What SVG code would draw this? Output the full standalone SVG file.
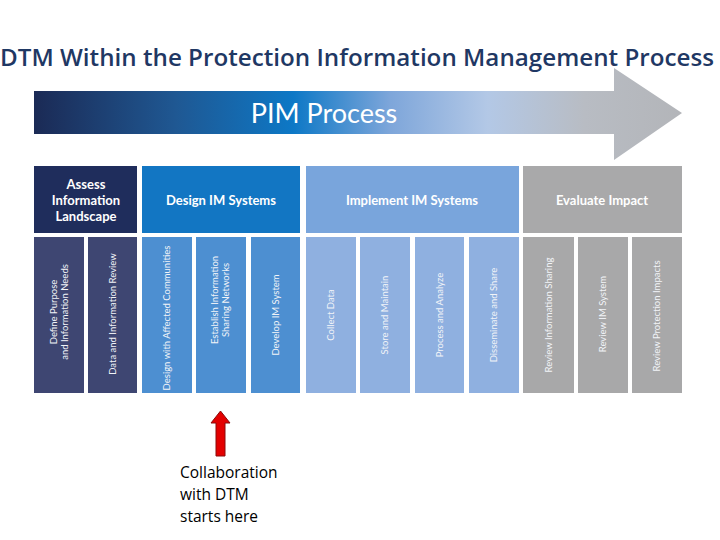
<svg xmlns="http://www.w3.org/2000/svg" width="720" height="540" viewBox="0 0 720 540">
<defs>
<linearGradient id="pim" x1="34" y1="0" x2="682" y2="0" gradientUnits="userSpaceOnUse">
<stop offset="0" stop-color="#1b2a55"/>
<stop offset="0.22" stop-color="#1f5893"/>
<stop offset="0.40" stop-color="#0d78c6"/>
<stop offset="0.55" stop-color="#7ea6da"/>
<stop offset="0.70" stop-color="#b3c8e6"/>
<stop offset="0.85" stop-color="#b8bcc3"/>
<stop offset="1" stop-color="#b3b5b9"/>
</linearGradient>
<style>
.title{font-family:"Open Sans","Liberation Sans",sans-serif;font-weight:600;font-size:23px;fill:#1f3864}
.hd{font-family:Lato,"Liberation Sans",sans-serif;font-weight:700;font-size:13px;fill:#ffffff;text-anchor:middle}
.vt{font-family:Lato,"Liberation Sans",sans-serif;font-size:9.5px;fill:#f2f4f8;text-anchor:middle}
.note{font-family:"Open Sans","Liberation Sans",sans-serif;font-size:15.5px;fill:#000000}
</style>
</defs>
<rect width="720" height="540" fill="#ffffff"/>
<text class="title" x="357" y="66" text-anchor="middle" textLength="714" lengthAdjust="spacingAndGlyphs">DTM Within the Protection Information Management Process</text>

<g id="pim-arrow">
<path d="M34 91 H614 V68 L682 113 L614 160 V134 H34 Z" fill="url(#pim)"/>
<text x="324" y="123" text-anchor="middle" font-family="Lato,'Liberation Sans',sans-serif" font-size="27" fill="#ffffff">PIM Process</text>
</g>

<g id="hdr-assess">
<rect x="34" y="166" width="103" height="67" fill="#1f2d5c"/>
<text class="hd" x="86" y="189">Assess</text>
<text class="hd" x="86" y="205">Information</text>
<text class="hd" x="86" y="221">Landscape</text>
</g>
<g id="hdr-design">
<rect x="142" y="166" width="158" height="67" fill="#1276c3"/>
<text class="hd" x="221" y="205">Design IM Systems</text>
</g>
<g id="hdr-implement">
<rect x="306" y="166" width="213" height="67" fill="#79a5dc"/>
<text class="hd" x="412" y="205" fill="#eef3fa">Implement IM Systems</text>
</g>
<g id="hdr-evaluate">
<rect x="523" y="166" width="159" height="67" fill="#a9a9aa"/>
<text class="hd" x="602" y="205">Evaluate Impact</text>
</g>

<g id="c1"><rect x="34" y="237" width="50" height="156" fill="#3e4672"/>
<text class="vt" transform="translate(59 312) rotate(-90)"><tspan x="0" y="-2">Define Purpose</tspan><tspan x="0" y="9">and Information Needs</tspan></text></g>
<g id="c2"><rect x="88" y="237" width="49" height="156" fill="#3e4672"/>
<text class="vt" transform="translate(112.5 314) rotate(-90)" y="3">Data and Information Review</text></g>
<g id="c3"><rect x="142" y="237" width="50" height="156" fill="#4d8fd1"/>
<text class="vt" transform="translate(167 318) rotate(-90)" y="3">Design with Affected Communities</text></g>
<g id="c4"><rect x="196" y="237" width="50" height="156" fill="#4d8fd1"/>
<text class="vt" transform="translate(221 300) rotate(-90)"><tspan x="0" y="-3">Establish Information</tspan><tspan x="0" y="8">Sharing Networks</tspan></text></g>
<g id="c5"><rect x="251" y="237" width="49" height="156" fill="#4d8fd1"/>
<text class="vt" transform="translate(275.5 315) rotate(-90)" y="3">Develop IM System</text></g>
<g id="c6"><rect x="306" y="237" width="50" height="156" fill="#8fb0e0"/>
<text class="vt" transform="translate(331 315) rotate(-90)" y="3">Collect Data</text></g>
<g id="c7"><rect x="360" y="237" width="50" height="156" fill="#8fb0e0"/>
<text class="vt" transform="translate(385 315) rotate(-90)" y="3">Store and Maintain</text></g>
<g id="c8"><rect x="415" y="237" width="49" height="156" fill="#8fb0e0"/>
<text class="vt" transform="translate(439.5 315) rotate(-90)" y="3">Process and Analyze</text></g>
<g id="c9"><rect x="469" y="237" width="50" height="156" fill="#8fb0e0"/>
<text class="vt" transform="translate(494 315) rotate(-90)" y="3">Disseminate and Share</text></g>
<g id="c10"><rect x="523" y="237" width="51" height="156" fill="#a8a8a9"/>
<text class="vt" transform="translate(548.5 315) rotate(-90)" y="3">Review Information Sharing</text></g>
<g id="c11"><rect x="578" y="237" width="50" height="156" fill="#a8a8a9"/>
<text class="vt" transform="translate(603 314) rotate(-90)" y="3">Review IM System</text></g>
<g id="c12"><rect x="632" y="237" width="50" height="156" fill="#a8a8a9"/>
<text class="vt" transform="translate(657 316) rotate(-90)" y="3">Review Protection Impacts</text></g>

<g id="connectors">
<path d="M220.5 411 L230 423 H225 V456 H216 V423 H211 Z" fill="#e30000" stroke="#8b0a0a" stroke-width="1"/>
</g>
<g id="note">
<text class="note" x="180" y="478">Collaboration</text>
<text class="note" x="180" y="500">with DTM</text>
<text class="note" x="180" y="522">starts here</text>
</g>
</svg>
